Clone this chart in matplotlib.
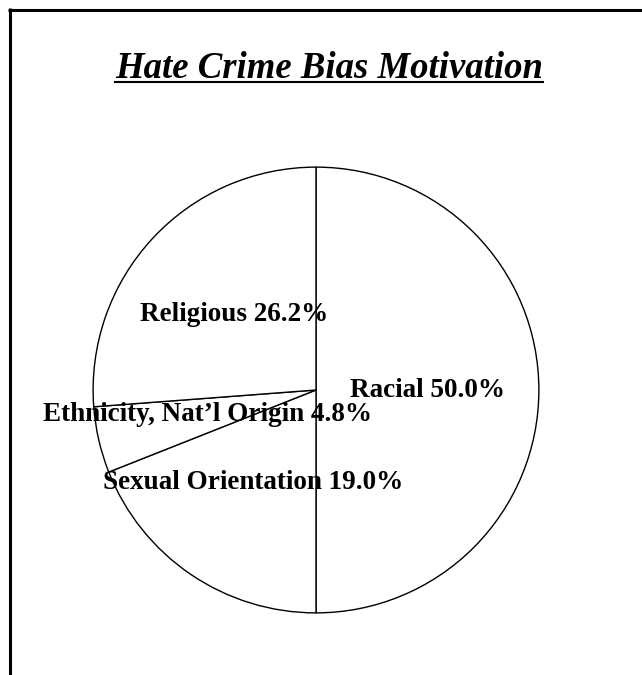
import matplotlib
matplotlib.use("Agg")
import matplotlib.pyplot as plt
from matplotlib.lines import Line2D

categories = ["Racial", "Sexual Orientation", "Ethnicity, Nat\u2019l Origin", "Religious"]
values = [50.0, 19.0, 4.8, 26.2]
title = "Hate Crime Bias Motivation"

W, H = 642, 675
fig = plt.figure(figsize=(W / 100, H / 100), dpi=100)
fig.patch.set_facecolor("white")

cx, cy, r = 316, 390, 224
ax = fig.add_axes([(cx - r) / W, (H - cy - r) / H, 2 * r / W, 2 * r / H])
labels = [f"{c} {v:.1f}%" for c, v in zip(categories, values)]
ax.pie(values, labels=labels, startangle=90, counterclock=False, radius=1,
       colors=["white"] * len(values), labeldistance=0.5,
       wedgeprops=dict(edgecolor="black", linewidth=1.0),
       textprops=dict(family="Liberation Serif", weight="bold", fontsize=19.5,
                      ha="center", va="center"))
ax.set_xlim(-1.005, 1.005)
ax.set_ylim(-1.005, 1.005)
ax.axis("off")

t = fig.text(329 / W, (H - 78) / H, title, family="Liberation Serif", weight="bold",
             style="italic", fontsize=26.5, ha="center", va="baseline")
fig.canvas.draw()
bb = t.get_window_extent()
uy = (H - 82) / H
fig.add_artist(Line2D([bb.x0 / W, bb.x1 / W], [uy, uy], color="black", linewidth=1.5,
                      transform=fig.transFigure))

# frame (left and top edges)
fig.add_artist(Line2D([9.5 / W, 9.5 / W], [0, (H - 8) / H], color="black",
                      linewidth=2.2, transform=fig.transFigure, solid_capstyle="butt"))
fig.add_artist(Line2D([8 / W, 1], [(H - 9.5) / H, (H - 9.5) / H], color="black",
                      linewidth=2.2, transform=fig.transFigure, solid_capstyle="butt"))

fig.savefig("out.png", dpi=100, facecolor="white")
